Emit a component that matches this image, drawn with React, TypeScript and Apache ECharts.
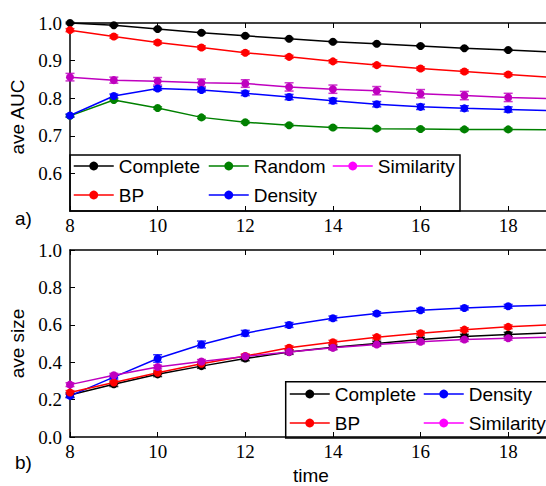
import React, { useEffect, useRef } from "react";
import * as echarts from "echarts";

const times = [8, 9, 10, 11, 12, 13, 14, 15, 16, 17, 18, 19];

// Panel a) ave AUC
const aucComplete = [1.0, 0.994, 0.984, 0.974, 0.966, 0.958, 0.95, 0.945, 0.939, 0.933, 0.928, 0.923];
const aucBP = [0.981, 0.964, 0.948, 0.935, 0.921, 0.91, 0.898, 0.888, 0.879, 0.871, 0.863, 0.855];
const aucRandom = [0.753, 0.795, 0.774, 0.749, 0.736, 0.728, 0.722, 0.719, 0.718, 0.717, 0.717, 0.716];
const aucSimilarity = [0.856, 0.848, 0.845, 0.841, 0.839, 0.83, 0.824, 0.82, 0.812, 0.807, 0.802, 0.799];
const aucDensity = [0.754, 0.806, 0.826, 0.822, 0.813, 0.803, 0.793, 0.784, 0.777, 0.773, 0.77, 0.767];

const aucCompleteErr = [0.002, 0.002, 0.002, 0.002, 0.002, 0.002, 0.002, 0.002, 0.002, 0.002, 0.002, 0.002];
const aucBPErr = [0.004, 0.004, 0.004, 0.004, 0.004, 0.004, 0.004, 0.004, 0.004, 0.004, 0.004, 0.004];
const aucRandomErr = [0.003, 0.003, 0.003, 0.003, 0.003, 0.003, 0.003, 0.003, 0.003, 0.003, 0.003, 0.003];
const aucSimilarityErr = [0.01, 0.008, 0.01, 0.01, 0.01, 0.011, 0.011, 0.011, 0.011, 0.011, 0.011, 0.011];
const aucDensityErr = [0.004, 0.005, 0.005, 0.005, 0.006, 0.007, 0.007, 0.007, 0.007, 0.007, 0.007, 0.007];

// Panel b) ave size
const sizeComplete = [0.225, 0.282, 0.335, 0.379, 0.42, 0.454, 0.48, 0.5, 0.521, 0.537, 0.548, 0.557];
const sizeDensity = [0.22, 0.32, 0.42, 0.495, 0.555, 0.599, 0.635, 0.66, 0.678, 0.69, 0.699, 0.706];
const sizeBP = [0.238, 0.291, 0.344, 0.392, 0.433, 0.477, 0.507, 0.534, 0.555, 0.574, 0.589, 0.601];
const sizeSimilarity = [0.28, 0.33, 0.374, 0.404, 0.431, 0.455, 0.477, 0.495, 0.509, 0.521, 0.528, 0.535];

const sizeCompleteErr = [0.012, 0.012, 0.012, 0.012, 0.012, 0.012, 0.012, 0.012, 0.012, 0.012, 0.012, 0.012];
const sizeDensityErr = [0.01, 0.01, 0.02, 0.018, 0.015, 0.013, 0.012, 0.01, 0.01, 0.01, 0.01, 0.01];
const sizeBPErr = [0.01, 0.01, 0.01, 0.01, 0.01, 0.01, 0.01, 0.01, 0.01, 0.01, 0.01, 0.01];
const sizeSimilarityErr = [0.01, 0.01, 0.01, 0.01, 0.01, 0.01, 0.01, 0.01, 0.01, 0.01, 0.01, 0.01];

const aucLabel = "ave AUC";
const sizeLabel = "ave size";
const timeLabel = "time";

const COLORS: Record<string, string> = {
  Complete: "#000000",
  BP: "#ff0000",
  Random: "#008000",
  Similarity: "#bf00bf",
  Density: "#0000ff",
};
const LEGEND_COLORS: Record<string, string> = {
  Complete: "#000000",
  BP: "#ff0000",
  Random: "#008000",
  Similarity: "#ff00ff",
  Density: "#0000ff",
};

const SERIF = "Liberation Serif";
const SANS = "Liberation Sans";

function lineSeries(name: string, values: number[], axisIdx: number) {
  return {
    type: "line",
    name,
    xAxisIndex: axisIdx,
    yAxisIndex: axisIdx,
    data: times.map((t, i) => [t, values[i]]),
    symbol: "circle",
    symbolSize: 8,
    color: COLORS[name],
    itemStyle: { color: COLORS[name] },
    lineStyle: { color: COLORS[name], width: 1.5 },
    z: 3,
  };
}

function errSeries(name: string, values: number[], errs: number[], axisIdx: number) {
  const color = COLORS[name];
  return {
    type: "custom",
    name: name + " error",
    xAxisIndex: axisIdx,
    yAxisIndex: axisIdx,
    data: times.map((t, i) => [t, values[i], errs[i]]),
    z: 2,
    renderItem: (params: any, api: any) => {
      const x = api.value(0);
      const y = api.value(1);
      const e = api.value(2);
      const hi = api.coord([x, y + e]);
      const lo = api.coord([x, y - e]);
      const hw = 4.5;
      const style = { stroke: color, lineWidth: 1.5, opacity: 0.8 };
      return {
        type: "group",
        children: [
          { type: "line", shape: { x1: hi[0], y1: hi[1], x2: lo[0], y2: lo[1] }, style },
          { type: "line", shape: { x1: hi[0] - hw, y1: hi[1], x2: hi[0] + hw, y2: hi[1] }, style },
          { type: "line", shape: { x1: lo[0] - hw, y1: lo[1], x2: lo[0] + hw, y2: lo[1] }, style },
        ],
      };
    },
  };
}

function legendComp(names: string[], left: number, top: number) {
  return {
    orient: "vertical",
    left,
    top,
    padding: 0,
    itemWidth: 40,
    itemHeight: 11,
    itemGap: 9,
    selectedMode: false,
    textStyle: { fontFamily: SANS, fontSize: 19, color: "#000", lineHeight: 20 },
    data: names.map((n) => ({
      name: n,
      itemStyle: { color: LEGEND_COLORS[n] },
      lineStyle: { color: LEGEND_COLORS[n], width: 1.5 },
    })),
  };
}

const GRID_LEFT = 70;
const GRID_W = 482;
const GRID_H = 188;
const TOP0 = 23;
const TOP1 = 250;

export default function App() {
  const ref = useRef<HTMLDivElement>(null);
  useEffect(() => {
    if (!ref.current) return;
    const chart = echarts.init(ref.current, null, { renderer: "svg" });
    const axisLine = { show: true, onZero: false, lineStyle: { color: "#000", width: 1.5 } };
    const tick = { show: true, inside: true, length: 5, lineStyle: { color: "#000", width: 1 } };
    const richSerif = { s: { fontFamily: SERIF, fontSize: 19, color: "#000" } };
    const xLabel = () => ({
      fontFamily: SERIF,
      fontSize: 19,
      color: "#000",
      margin: 5,
      showMaxLabel: false,
      formatter: (v: number) => "{s|" + String(v) + "}",
      rich: richSerif,
    });
    const yLabel = (hideMin: boolean) => ({
      fontFamily: SERIF,
      fontSize: 19,
      color: "#000",
      margin: 8,
      formatter: (v: number) => "{s|" + v.toFixed(1) + "}",
      rich: richSerif,
      showMinLabel: !hideMin,
    });
    const nameStyle = { fontSize: 19, color: "#000" };

    const xBase = (grid: number, pos: string, extra: any) => ({
      type: "value",
      gridIndex: grid,
      position: pos,
      min: 8,
      max: 19,
      interval: 2,
      axisLine,
      axisTick: tick,
      splitLine: { show: false },
      ...extra,
    });
    const yBase = (grid: number, pos: string, min: number, max: number, interval: number, extra: any) => ({
      type: "value",
      gridIndex: grid,
      position: pos,
      min,
      max,
      interval,
      axisLine,
      axisTick: tick,
      splitLine: { show: false },
      ...extra,
    });

    const option: any = {
      animation: false,
      backgroundColor: "#ffffff",
      grid: [
        { left: GRID_LEFT, top: TOP0, width: GRID_W, height: GRID_H, show: false },
        { left: GRID_LEFT, top: TOP1, width: GRID_W, height: GRID_H, show: false },
      ],
      xAxis: [
        xBase(0, "bottom", { axisLabel: xLabel() }),
        xBase(0, "top", { axisLabel: { show: false } }),
        xBase(1, "bottom", {
          axisLabel: xLabel(),
          name: timeLabel,
          nameLocation: "middle",
          nameGap: 29,
          nameTextStyle: nameStyle,
        }),
        xBase(1, "top", { axisLabel: { show: false } }),
      ],
      yAxis: [
        yBase(0, "left", 0.5, 1.0, 0.1, {
          axisLabel: yLabel(true),
          name: aucLabel,
          nameLocation: "middle",
          nameGap: 40,
          nameTextStyle: nameStyle,
        }),
        yBase(0, "right", 0.5, 1.0, 0.1, { axisLabel: { show: false } }),
        yBase(1, "left", 0, 1.0, 0.2, {
          axisLabel: yLabel(false),
          name: sizeLabel,
          nameLocation: "middle",
          nameGap: 40,
          nameTextStyle: nameStyle,
        }),
        yBase(1, "right", 0, 1.0, 0.2, { axisLabel: { show: false } }),
      ],
      legend: [
        legendComp(["Complete", "BP"], 73, 156),
        legendComp(["Random", "Density"], 208, 156),
        legendComp(["Similarity"], 332, 156),
        legendComp(["Complete", "BP"], 289, 384),
        legendComp(["Density", "Similarity"], 423, 384),
      ],
      graphic: [
        {
          type: "rect",
          shape: { x: GRID_LEFT, y: 155, width: 390, height: TOP0 + GRID_H - 155 },
          style: { fill: "none", stroke: "#000", lineWidth: 1.5 },
          z: 5,
        },
        {
          type: "rect",
          shape: { x: 285.7, y: 381.7, width: GRID_LEFT + GRID_W - 285.7, height: TOP1 + GRID_H - 381.7 },
          style: { fill: "none", stroke: "#000", lineWidth: 1.5 },
          z: 5,
        },
        { type: "text", left: 15, top: 209, style: { text: "a)", fontFamily: SANS, fontSize: 19, fill: "#000" } },
        { type: "text", left: 15, top: 453, style: { text: "b)", fontFamily: SANS, fontSize: 19, fill: "#000" } },
      ],
      series: [
        errSeries("Complete", aucComplete, aucCompleteErr, 0),
        errSeries("BP", aucBP, aucBPErr, 0),
        errSeries("Random", aucRandom, aucRandomErr, 0),
        errSeries("Similarity", aucSimilarity, aucSimilarityErr, 0),
        errSeries("Density", aucDensity, aucDensityErr, 0),
        lineSeries("Complete", aucComplete, 0),
        lineSeries("BP", aucBP, 0),
        lineSeries("Random", aucRandom, 0),
        lineSeries("Similarity", aucSimilarity, 0),
        lineSeries("Density", aucDensity, 0),
        errSeries("Complete", sizeComplete, sizeCompleteErr, 2),
        errSeries("Density", sizeDensity, sizeDensityErr, 2),
        errSeries("BP", sizeBP, sizeBPErr, 2),
        errSeries("Similarity", sizeSimilarity, sizeSimilarityErr, 2),
        lineSeries("Complete", sizeComplete, 2),
        lineSeries("Density", sizeDensity, 2),
        lineSeries("BP", sizeBP, 2),
        lineSeries("Similarity", sizeSimilarity, 2),
      ],
    };
    chart.setOption(option);
    return () => chart.dispose();
  }, []);

  return (
    <div style={{ position: "absolute", left: 0, top: 0, width: 546, height: 486, overflow: "hidden", background: "#fff" }}>
      <div ref={ref} style={{ width: 600, height: 486 }} />
    </div>
  );
}
